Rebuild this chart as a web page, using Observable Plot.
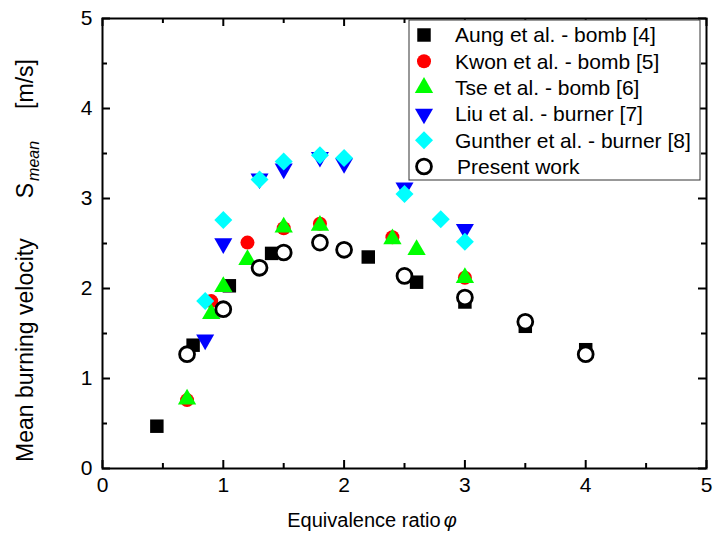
<!DOCTYPE html>
<html><head><meta charset="utf-8">
<script src="https://cdn.jsdelivr.net/npm/d3@7"></script>
<script src="https://cdn.jsdelivr.net/npm/@observablehq/plot@0.6"></script>
<style>body{margin:0;background:#fff} #chart{width:713px;height:538px}</style>
</head><body><div id="chart"></div>
<script>
// ---- data ----
const aungX = [0.45, 0.75, 1.05, 1.4, 2.2, 2.6, 3.0, 3.5, 4.0];
const aungY = [0.47, 1.37, 2.03, 2.39, 2.35, 2.07, 1.85, 1.58, 1.32];
const kwonX = [0.7, 0.9, 1.2, 1.5, 1.8, 2.4, 3.0];
const kwonY = [0.76, 1.86, 2.51, 2.67, 2.72, 2.57, 2.12];
const tseX = [0.7, 0.9, 1.0, 1.2, 1.5, 1.8, 2.4, 2.6, 3.0];
const tseY = [0.77, 1.72, 2.02, 2.32, 2.68, 2.70, 2.55, 2.43, 2.12];
const liuX = [0.85, 1.0, 1.3, 1.5, 1.8, 2.0, 2.5, 3.0];
const liuY = [1.43, 2.50, 3.22, 3.33, 3.46, 3.39, 3.12, 2.66];
const guntherX = [0.85, 1.0, 1.3, 1.5, 1.8, 2.0, 2.5, 2.8, 3.0];
const guntherY = [1.86, 2.76, 3.21, 3.41, 3.48, 3.45, 3.05, 2.77, 2.52];
const presentX = [0.7, 1.0, 1.3, 1.5, 1.8, 2.0, 2.5, 3.0, 3.5, 4.0];
const presentY = [1.27, 1.77, 2.23, 2.40, 2.51, 2.43, 2.14, 1.90, 1.63, 1.27];

const seriesNames = ["Aung et al. - bomb [4]", "Kwon et al. - bomb [5]", "Tse et al. - bomb [6]",
  "Liu et al. - burner [7]", "Gunther et al. - burner [8]", "Present work"];
const xMajor = [0, 1, 2, 3, 4, 5];
const xMinor = [0.5, 1.5, 2.5, 3.5, 4.5];
const yMajor = [0, 1, 2, 3, 4, 5];
const yMinor = [0.5, 1.5, 2.5, 3.5, 4.5];

// ---- layout ----
const W = 713, H = 538;
const mL = 102, mR = 7, mT = 18, mB = 70;
const PW = W - mL - mR, PH = H - mT - mB;
const MAJ = 8, MIN = 5;

const triDown = {
  draw(ctx, size) {
    const y = Math.sqrt(size / (Math.sqrt(3) * 3));
    ctx.moveTo(0, 2 * y);
    ctx.lineTo(-Math.sqrt(3) * y, -y);
    ctx.lineTo(Math.sqrt(3) * y, -y);
    ctx.closePath();
  }
};

const styles = [
  {symbol: "square", r: 7.6, fill: "#000000"},
  {symbol: "circle", r: 7, fill: "#ff0000"},
  {symbol: "triangle", r: 6.8, fill: "#00ff00"},
  {symbol: triDown, r: 6.7, fill: "#0000ff"},
  {symbol: "diamond2", r: 8.1, fill: "#00ffff"},
  {symbol: "circle", r: 7.45, fill: "white", stroke: "black", strokeWidth: 2.8}
];
const xs = [aungX, kwonX, tseX, liuX, guntherX, presentX];
const ys = [aungY, kwonY, tseY, liuY, guntherY, presentY];
const tables = xs.map((xa, k) => xa.map((x, i) => ({x, y: ys[k][i]})));

const tickMarks = (vals, len, axis) => axis === "x"
  ? [Plot.tickX(vals, {x: d => d, insetTop: PH - len, stroke: "black", strokeWidth: 2}),
     Plot.tickX(vals, {x: d => d, insetBottom: PH - len, stroke: "black", strokeWidth: 2})]
  : [Plot.tickY(vals, {y: d => d, insetRight: PW - len, stroke: "black", strokeWidth: 2}),
     Plot.tickY(vals, {y: d => d, insetLeft: PW - len, stroke: "black", strokeWidth: 2})];

const plot = Plot.plot({
  width: W, height: H,
  marginLeft: mL, marginRight: mR, marginTop: mT, marginBottom: mB,
  x: {domain: [0, 5]},
  y: {domain: [0, 5]},
  style: {fontFamily: "'Liberation Sans', Arial, sans-serif", fontSize: "21px", color: "black", background: "white"},
  marks: [
    Plot.axisX(xMajor, {tickSize: 0, tickPadding: 9, label: null, tickFormat: d => d, fontSize: 21}),
    Plot.axisY(yMajor, {tickSize: 0, tickPadding: 10, label: null, tickFormat: d => d, fontSize: 21}),
    ...tickMarks(xMajor, MAJ, "x"), ...tickMarks(xMinor, MIN, "x"),
    ...tickMarks(yMajor, MAJ, "y"), ...tickMarks(yMinor, MIN, "y"),
    ...tables.map((t, k) => Plot.dot(t, {x: "x", y: "y", ...styles[k]})),
    Plot.frame({stroke: "black", strokeWidth: 2})
  ]
});
document.getElementById("chart").appendChild(plot);

// ---- titles & legend ----
const svg = d3.select(plot);
const font = "'Liberation Sans', Arial, sans-serif";

const xt = svg.append("text").attr("x", 372).attr("y", 527).attr("text-anchor", "middle")
  .style("font-family", font).style("font-size", "20px").attr("fill", "black");
xt.append("tspan").text("Equivalence ratio");
xt.append("tspan").attr("dx", 3).style("font-style", "italic").text("φ");

const yt = svg.append("text").attr("transform", "translate(33,462) rotate(-90)").attr("text-anchor", "start")
  .style("font-family", font).style("font-size", "23px").attr("fill", "black");
yt.append("tspan").text("Mean burning velocity");
yt.append("tspan").attr("dx", 40).text("S");
yt.append("tspan").attr("dy", 6).attr("dx", 2).style("font-size", "16px").style("font-style", "italic").text("mean");
yt.append("tspan").attr("dy", -6).attr("dx", 32).text("[m/s]");

const lg = svg.append("g").attr("text-anchor", "start");
lg.append("rect").attr("x", 409).attr("y", 20).attr("width", 291).attr("height", 160)
  .attr("fill", "white").attr("stroke", "#333").attr("stroke-width", 1);
const d3sym = {square: d3.symbolSquare, circle: d3.symbolCircle, triangle: d3.symbolTriangle, diamond2: d3.symbolDiamond2};
seriesNames.forEach((name, i) => {
  const cy = 35 + i * 26.3;
  const s = styles[i];
  const type = typeof s.symbol === "string" ? d3sym[s.symbol] : s.symbol;
  lg.append("path").attr("transform", `translate(424,${cy})`)
    .attr("d", d3.symbol(type, Math.PI * s.r * s.r)())
    .attr("fill", s.fill).attr("stroke", s.stroke || "none").attr("stroke-width", s.strokeWidth || 0);
  lg.append("text").attr("x", i === 5 ? 457 : 455).attr("y", cy).attr("dy", "0.35em")
    .attr("text-anchor", "start")
    .style("font-family", font).style("font-size", "21px").attr("fill", "black").text(name);
});
</script>
</body></html>
